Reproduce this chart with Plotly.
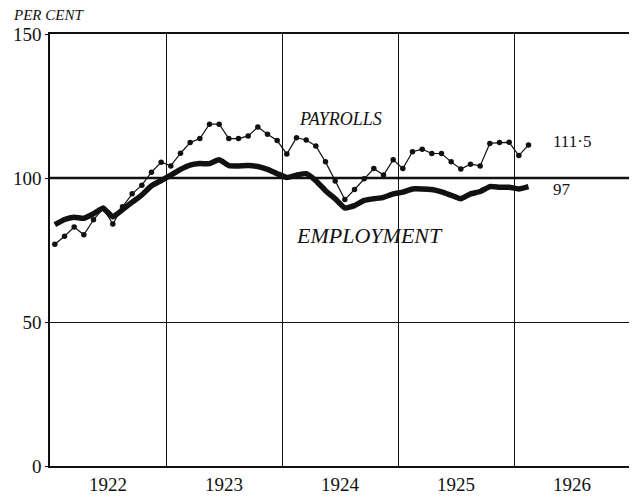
import plotly.graph_objects as go

years = ["1922", "1923", "1924", "1925", "1926"]

# Monthly index numbers, Jan 1922 - Feb 1926
payrolls = [
    77.0, 79.8, 83.0, 80.3, 85.5, 89.5, 84.0, 90.0, 94.5, 97.5, 102.0, 105.5,
    104.2, 108.6, 112.3, 113.7, 118.7, 118.7, 113.7, 113.7, 114.6, 117.7, 115.2, 113.0,
    108.3, 114.0, 113.2, 111.1, 105.6, 99.0, 92.5, 96.0, 99.7, 103.3, 101.0, 106.3,
    103.3, 109.1, 110.0, 108.5, 108.5, 105.6, 103.1, 104.8, 104.2, 112.0, 112.3, 112.4,
    107.8, 111.5,
]
employment = [
    83.8, 85.6, 86.4, 86.0, 87.6, 89.5, 86.5, 89.0, 91.6, 94.1, 97.3, 99.1,
    101.0, 103.0, 104.5, 105.0, 105.0, 106.3, 104.3, 104.2, 104.3, 104.0, 103.0, 101.5,
    100.2, 101.0, 101.5, 99.1, 95.6, 92.8, 89.6, 90.4, 92.2, 92.8, 93.3, 94.5,
    95.1, 96.2, 96.2, 96.0, 95.2, 94.0, 92.8, 94.5, 95.3, 97.0, 96.8, 96.8,
    96.2, 97.0,
]
end_labels = ["111·5", "97"]
y_ticks = [0, 50, 100, 150]

months = list(range(len(payrolls)))
n_months = 12 * len(years)
year_centers = [12 * i + 5.5 for i in range(len(years))]
year_bounds = [12 * i - 0.5 for i in range(1, len(years))]

FONT = "Liberation Serif"
INK = "#111111"

fig = go.Figure()
fig.add_trace(go.Scatter(
    x=months, y=employment, mode="lines",
    line=dict(color=INK, width=5.5, shape="spline", smoothing=0.4),
    name="Employment", hoverinfo="y",
))
fig.add_trace(go.Scatter(
    x=months, y=payrolls, mode="lines+markers",
    line=dict(color=INK, width=1.2),
    marker=dict(color=INK, size=5.5),
    name="Payrolls", hoverinfo="y",
))

# page body has an 8px margin, so the figure is sized to fit inside it
fig.update_layout(
    width=629, height=492,
    margin=dict(l=39, r=5, t=26, b=20),
    paper_bgcolor="white", plot_bgcolor="white",
    showlegend=False,
    font=dict(family=FONT, color=INK),
    xaxis=dict(
        range=[-0.5, n_months - 0.5],
        tickmode="array", tickvals=year_centers, ticktext=years,
        tickfont=dict(size=19, family=FONT, color=INK),
        showgrid=False, ticks="", zeroline=False,
        showline=True, mirror=True, linecolor=INK, linewidth=1.6,
        minor=dict(tickmode="array", tickvals=year_bounds, showgrid=True,
                   gridcolor=INK, gridwidth=1.3, ticks=""),
        fixedrange=True,
    ),
    yaxis=dict(
        range=[0, 150],
        tickmode="array", tickvals=y_ticks,
        tickfont=dict(size=19, family=FONT, color=INK),
        showgrid=True, gridcolor=INK, gridwidth=1,
        ticks="outside", ticklen=3, tickcolor=INK,
        zeroline=False,
        showline=True, mirror=True, linecolor=INK, linewidth=1.6,
        fixedrange=True,
    ),
)

# heavier 100 per cent reference line
fig.add_shape(type="line", xref="paper", x0=0, x1=1, yref="y", y0=100, y1=100,
              line=dict(color=INK, width=2.6), layer="below")

fig.add_annotation(text="<i>PER CENT</i>", xref="paper", yref="paper",
                   x=-0.067, y=1.045, xanchor="left", yanchor="middle",
                   showarrow=False, font=dict(size=15, family=FONT, color=INK))
fig.add_annotation(text="<i>PAYROLLS</i>", xref="x", yref="y",
                   x=29.5, y=120.5, showarrow=False,
                   font=dict(size=18, family=FONT, color=INK))
fig.add_annotation(text="<i>EMPLOYMENT</i>", xref="x", yref="y",
                   x=32.5, y=80, showarrow=False,
                   font=dict(size=22, family=FONT, color=INK))
fig.add_annotation(text=end_labels[0], xref="x", yref="y",
                   x=months[-1], y=payrolls[-1], xanchor="left", yanchor="middle",
                   xshift=22, yshift=3, showarrow=False,
                   font=dict(size=17, family=FONT, color=INK))
fig.add_annotation(text=end_labels[1], xref="x", yref="y",
                   x=months[-1], y=employment[-1], xanchor="left", yanchor="middle",
                   xshift=22, yshift=-3, showarrow=False,
                   font=dict(size=17, family=FONT, color=INK))

fig.write_html("out.html")
